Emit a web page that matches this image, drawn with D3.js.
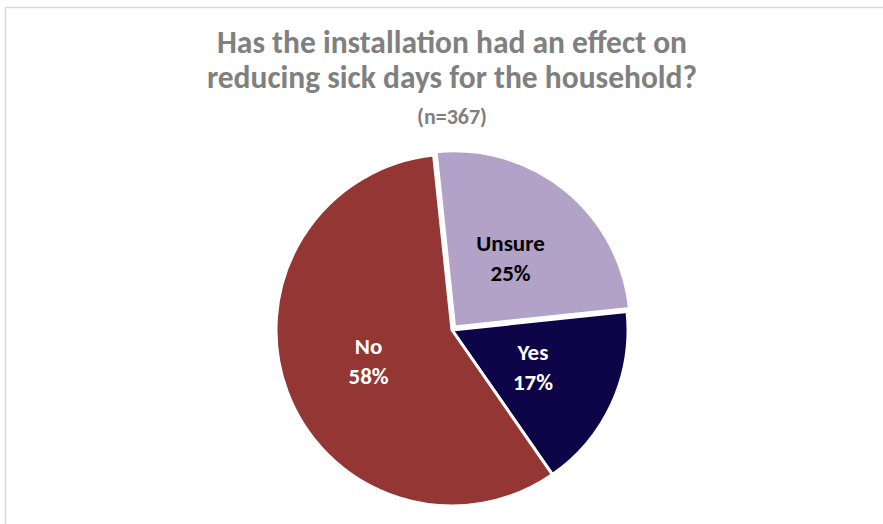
<!DOCTYPE html>
<html>
<head>
<meta charset="utf-8">
<script src="https://cdn.jsdelivr.net/npm/d3@7"></script>
<style>
  html, body { margin: 0; padding: 0; background: #fff; }
  svg { display: block; }
</style>
</head>
<body>
<svg id="chart" width="883" height="524"></svg>
<script>
// Survey responses
const categories = ["Unsure", "Yes", "No"];
const percentages = [25, 17, 58];
const sliceColors = ["#B3A2C7", "#0E0548", "#943634"];
const labelColors = ["#000000", "#FFFFFF", "#FFFFFF"];
const titleLines = ["Has the installation had an effect on", "reducing sick days for the household?"];
const subtitle = "(n=367)";

const svg = d3.select("#chart");
const W = 883, H = 524;

// Chart area frame (top and left edges visible)
svg.append("path")
  .attr("d", `M5.5,${H} L5.5,7.5 L${W},7.5`)
  .attr("fill", "none")
  .attr("stroke", "#d9d9d9")
  .attr("stroke-width", 1.5);

// Title
const font = "Carlito, Calibri, Lato, 'Liberation Sans', sans-serif";
svg.selectAll("text.title")
  .data(titleLines)
  .join("text")
  .attr("class", "title")
  .attr("x", 452)
  .attr("y", (d, i) => 53 + i * 35)
  .attr("text-anchor", "middle")
  .attr("font-family", font)
  .attr("font-weight", "bold")
  .attr("font-size", 31.5)
  .attr("fill", "#808080")
  .text(d => d);

svg.append("text")
  .attr("x", 452)
  .attr("y", 124)
  .attr("text-anchor", "middle")
  .attr("font-family", font)
  .attr("font-weight", "bold")
  .attr("font-size", 22)
  .attr("fill", "#808080")
  .text(subtitle);

// Pie
const cx = 452, cy = 330, R = 176;
const rad = deg => deg * Math.PI / 180;
const pie = d3.pie()
  .sort(null)
  .value(d => d)
  .startAngle(rad(-6))
  .endAngle(rad(354));
const arcs = pie(percentages);
const arc = d3.arc().innerRadius(0).outerRadius(R);
const labelArc = d3.arc().innerRadius(89).outerRadius(89);
const explode = [4, 0, 0];

const g = svg.append("g").attr("transform", `translate(${cx},${cy})`);

const slices = g.selectAll("g.slice")
  .data(arcs)
  .join("g")
  .attr("class", "slice")
  .attr("transform", (d, i) => {
    const a = (d.startAngle + d.endAngle) / 2;
    return `translate(${Math.sin(a) * explode[i]},${-Math.cos(a) * explode[i]})`;
  });

slices.append("path")
  .attr("d", arc)
  .attr("fill", (d, i) => sliceColors[i])
  .attr("stroke", "#fff")
  .attr("stroke-width", 3)
  .attr("stroke-linejoin", "round");

const labels = slices.append("text")
  .attr("transform", d => `translate(${labelArc.centroid(d)})`)
  .attr("text-anchor", "middle")
  .attr("font-family", font)
  .attr("font-weight", "bold")
  .attr("font-size", 23)
  .attr("fill", (d, i) => labelColors[i]);

labels.append("tspan")
  .attr("x", 0)
  .attr("y", -7)
  .text((d, i) => categories[i]);
labels.append("tspan")
  .attr("x", 0)
  .attr("y", 23)
  .text((d, i) => d.data + "%");
</script>
</body>
</html>
